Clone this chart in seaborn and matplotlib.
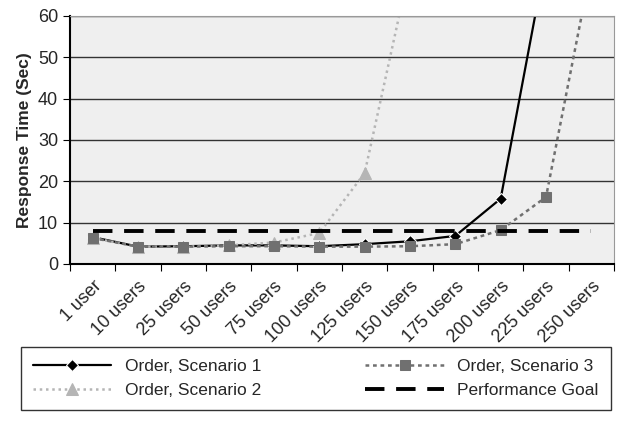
import numpy as np
import pandas as pd
import seaborn as sns
import matplotlib
matplotlib.use("Agg")
import matplotlib.pyplot as plt

users = ['1 user', '10 users', '25 users', '50 users', '75 users', '100 users',
         '125 users', '150 users', '175 users', '200 users', '225 users', '250 users']
scenario1 = [6.5, 4.2, 4.3, 4.5, 4.5, 4.3, 4.8, 5.5, 6.8, 15.8, 74]
scenario2 = [6.3, 4.2, 4.2, 4.5, 5.2, 7.5, 22, 72]
scenario3 = [6.3, 4.2, 4.2, 4.3, 4.3, 4.2, 4.2, 4.3, 4.8, 8.2, 16.2, 72]
goal = [8] * len(users)

sns.set_style("white")
plt.rcParams['font.family'] = ['Liberation Sans', 'DejaVu Sans']

fig = plt.figure(figsize=(6.23, 4.21), dpi=100)
ax = fig.add_axes([70 / 623, 1 - 264 / 421, 544 / 623, 248 / 421])
ax.set_facecolor('#efefef')

x = np.arange(len(users)) + 0.5
sns.lineplot(x=x[:len(scenario1)], y=scenario1, ax=ax, color='black', lw=1.6,
             marker='D', markersize=6, label='Order, Scenario 1')
sns.lineplot(x=x[:len(scenario2)], y=scenario2, ax=ax, color='#b5b5b5', lw=1.8,
             linestyle=(0, (1, 1.5)), marker='^', markersize=8, markeredgecolor='#b5b5b5',
             label='Order, Scenario 2')
sns.lineplot(x=x[:len(scenario3)], y=scenario3, ax=ax, color='#707070', lw=1.8,
             linestyle=(0, (1.5, 1.5)), marker='s', markersize=7, markeredgecolor='#707070',
             label='Order, Scenario 3')
sns.lineplot(x=x, y=goal, ax=ax, color='black', lw=2.8, linestyle=(0, (5, 3)),
             label='Performance Goal')

ax.set_xlim(0, len(users))
ax.set_ylim(0, 60)
ax.set_yticks(range(0, 61, 10))
ax.yaxis.grid(True, color='#333333', lw=1)
ax.set_xticks(np.arange(len(users) + 1))
ax.set_xticklabels([])
ax.set_xticks(x, minor=True)
ax.set_xticklabels(users, minor=True, rotation=45, ha='right', rotation_mode='anchor', fontsize=13)
ax.tick_params(axis='x', which='major', length=5, color='black', direction='out', bottom=True)
ax.tick_params(axis='x', which='minor', length=0, pad=10)
ax.tick_params(axis='y', labelsize=13, length=5, left=True, color='black')
for s in ['left', 'bottom']:
    ax.spines[s].set_color('black')
    ax.spines[s].set_linewidth(1.5)
for s in ['top', 'right']:
    ax.spines[s].set_color('#999999')
ax.set_ylabel('Response Time (Sec)', fontsize=12.5, fontweight='bold')

handles, labels = ax.get_legend_handles_labels()
ax.get_legend().remove()
leg = fig.legend(handles, labels, ncol=2, loc='lower center', bbox_to_anchor=(0.507, 0.005),
                 frameon=True, fancybox=False, edgecolor='black', fontsize=12.5,
                 columnspacing=6, handlelength=4.5, borderpad=0.7, labelspacing=0.5)
leg.get_frame().set_linewidth(1)

fig.savefig('out.png', dpi=100)
